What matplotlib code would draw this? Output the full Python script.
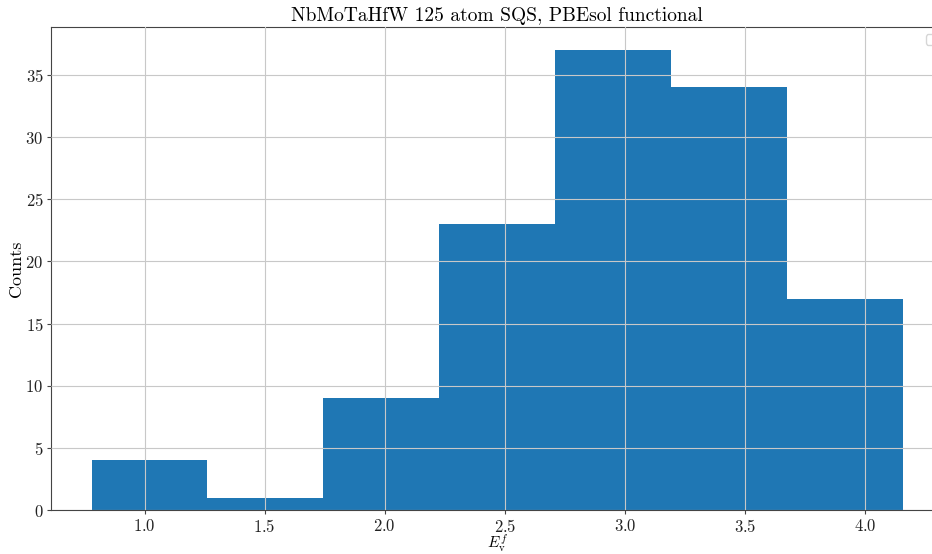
import numpy as np
import matplotlib
matplotlib.use('Agg')
import matplotlib.pyplot as plt

# vacancy formation energy histogram (counts per bin)
bin_lo = 0.779
bin_hi = 4.158
counts = [4, 1, 9, 23, 37, 34, 17]

plt.rcParams['font.family'] = 'serif'
plt.rcParams['font.serif'] = ['cmr10']
plt.rcParams['mathtext.fontset'] = 'cm'
plt.rcParams['axes.formatter.use_mathtext'] = True

edges = np.linspace(bin_lo, bin_hi, len(counts) + 1)
centers = (edges[:-1] + edges[1:]) / 2

fig = plt.figure(figsize=(9.32, 5.54), dpi=100)
ax = fig.add_axes([0.0547, 0.0794, 0.9577, 0.8719])

ax.hist(centers, bins=edges, weights=counts, color='#1f77b4')
ax.set_axisbelow(False)
ax.grid(True, color='#c8c8c8', linewidth=0.8)

for side in ['left', 'bottom', 'top', 'right']:
    ax.spines[side].set_color('#444444')
ax.tick_params(colors='#444444', labelcolor='#222222', labelsize=12, length=3, pad=2.5)

ax.set_title('NbMoTaHfW 125 atom SQS, PBEsol functional', fontsize=14, pad=4)
ax.set_xlabel(r'$E_{\rm v}^f$', fontsize=11, labelpad=-1)
ax.set_ylabel('Counts', fontsize=13, labelpad=1)
ax.legend(loc='upper right')

fig.savefig('out.png', dpi=100)
